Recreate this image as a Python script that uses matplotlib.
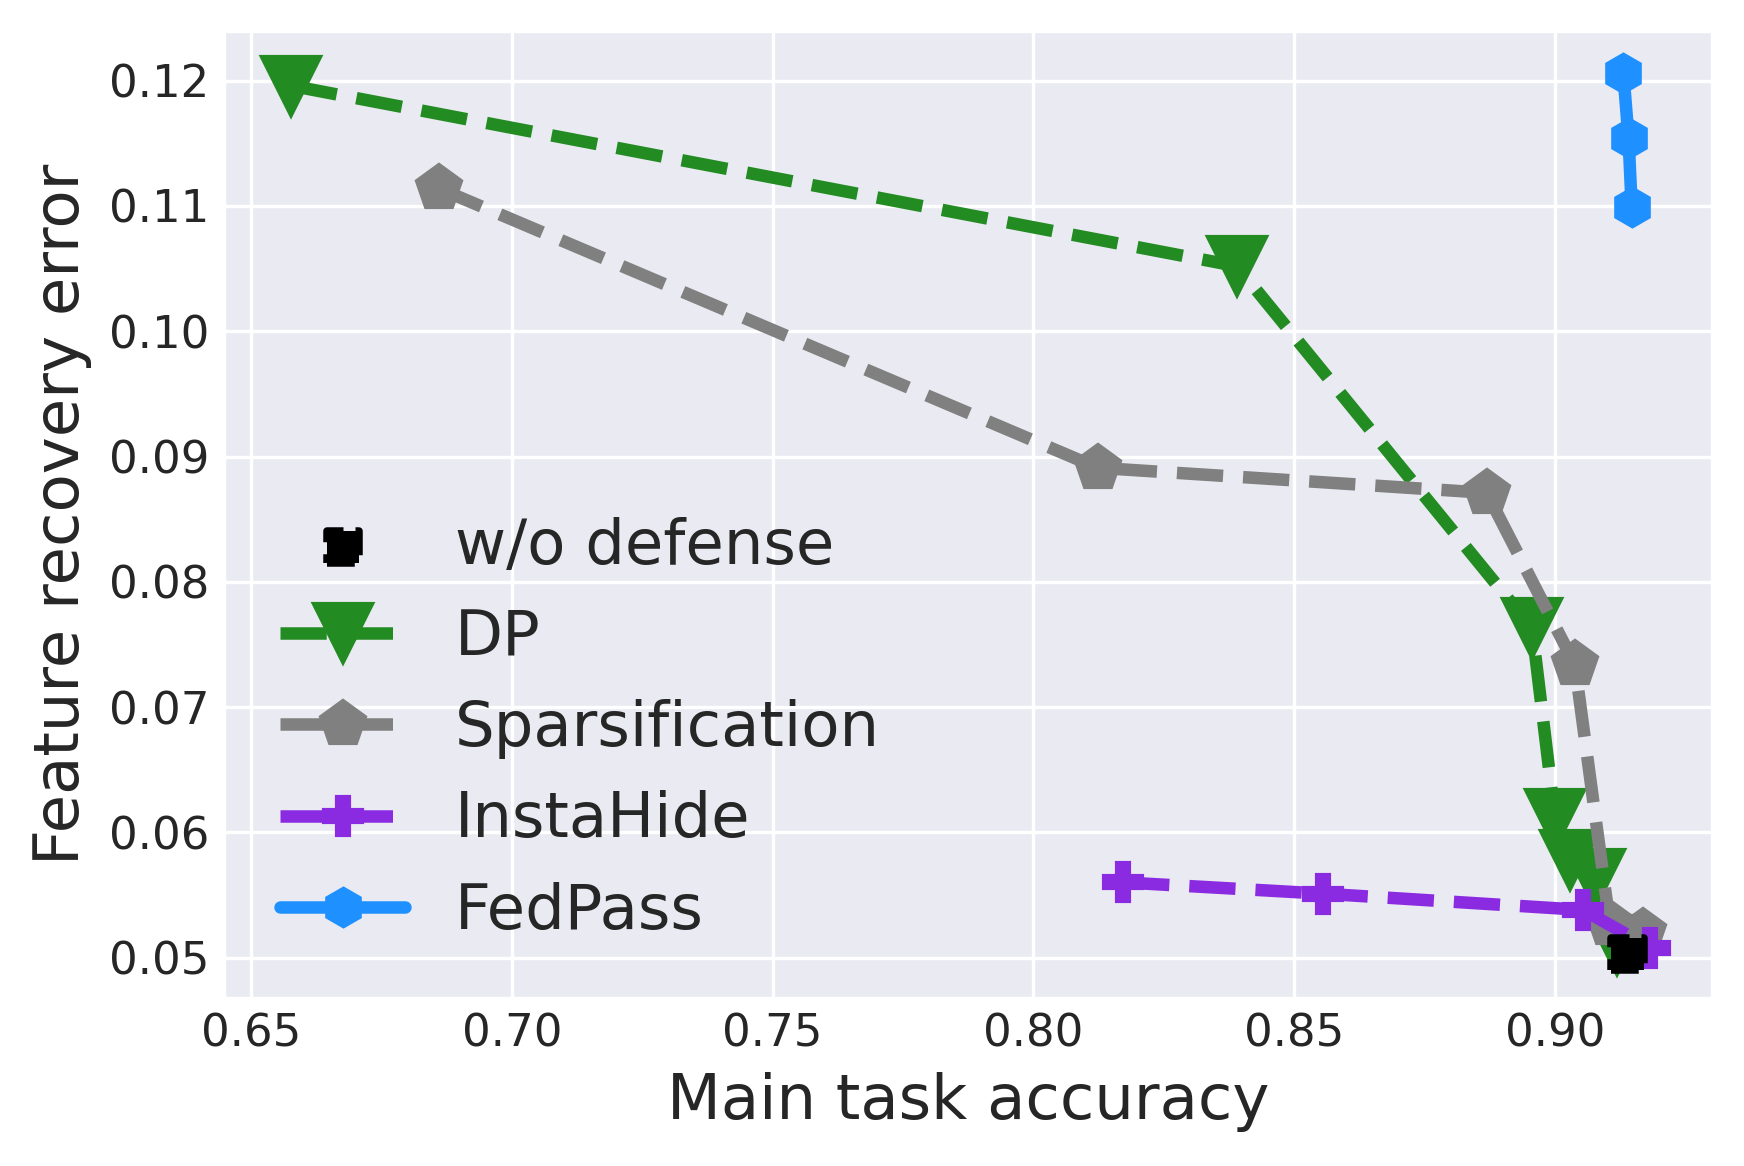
import matplotlib
matplotlib.use("Agg")
import matplotlib.pyplot as plt
import seaborn as sns

sns.set_style("darkgrid")
plt.rcParams['font.family'] = ['DejaVu Sans']

# Data
nodef_acc = [0.9139]
nodef_err = [0.0503]

dp_acc = [0.6577, 0.8390, 0.8956, 0.9000, 0.9029, 0.9077, 0.9118]
dp_err = [0.1196, 0.1052, 0.0763, 0.0611, 0.0578, 0.0563, 0.0510]

sp_acc = [0.6860, 0.8123, 0.8869, 0.9038, 0.9105, 0.9169]
sp_err = [0.1114, 0.0891, 0.0871, 0.0734, 0.0527, 0.0520]

ih_acc = [0.8172, 0.8555, 0.9054, 0.9182]
ih_err = [0.0560, 0.0551, 0.0538, 0.0508]

fp_acc = [0.9131, 0.9141, 0.9147]
fp_err = [0.12059, 0.11540, 0.10994]

xticks = [0.65, 0.70, 0.75, 0.80, 0.85, 0.90]
yticks = [0.05, 0.06, 0.07, 0.08, 0.09, 0.10, 0.11, 0.12]

W, H = 1744, 1166
fig = plt.figure(figsize=(W/300, H/300), dpi=300)
ax = fig.add_axes([224/W, 1-998/H, (1712-224)/W, (998-31)/H])

lw = 3
ax.plot(dp_acc, dp_err, '--', color='forestgreen', marker='v', markersize=14, lw=lw, label='DP', zorder=3)
ax.plot(sp_acc, sp_err, '--', color='gray', marker='p', markersize=11, lw=lw, label='Sparsification', zorder=3)
ax.plot(ih_acc, ih_err, '--', color='blueviolet', marker='P', markersize=9, lw=lw, label='InstaHide', zorder=3)
ax.plot(fp_acc, fp_err, '-', color='dodgerblue', marker='h', markersize=9, lw=lw, label='FedPass', zorder=3)
ax.scatter(nodef_acc, nodef_err, marker='s', color='black', s=60, linewidths=1.8,
           linestyles='--', label='w/o defense', zorder=4)

ax.set_xlim(0.6448, 0.9301)
ax.set_ylim(0.04677, 0.12397)
ax.set_xticks(xticks)
ax.set_yticks(yticks)
ax.set_xticklabels([f"{v:.2f}" for v in xticks])
ax.set_yticklabels([f"{v:.2f}" for v in yticks])
ax.tick_params(labelsize=10.8, length=0, pad=3.5)
ax.set_xlabel('Main task accuracy', fontsize=15)
ax.set_ylabel('Feature recovery error', fontsize=15)

handles, labels = ax.get_legend_handles_labels()
order = [labels.index(l) for l in ['w/o defense', 'DP', 'Sparsification', 'InstaHide', 'FedPass']]
ax.legend([handles[i] for i in order], [labels[i] for i in order],
          loc='lower left', fontsize=15, labelspacing=0.5, frameon=False, scatterpoints=1)

fig.savefig('out.png', dpi=300)
